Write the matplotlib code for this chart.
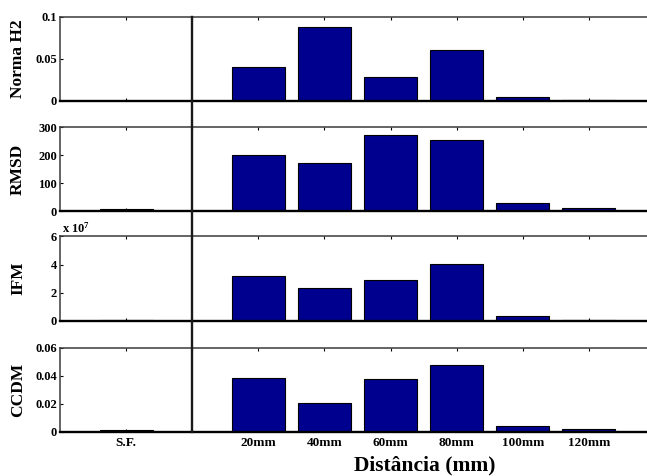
import matplotlib
matplotlib.use("Agg")
import matplotlib.pyplot as plt
from matplotlib.lines import Line2D
from matplotlib.transforms import blended_transform_factory

plt.rcParams['font.family'] = ['Liberation Serif', 'DejaVu Serif']
plt.rcParams['font.weight'] = 'bold'
plt.rcParams['mathtext.fontset'] = 'custom'
plt.rcParams['mathtext.rm'] = 'Liberation Serif:bold'
plt.rcParams['mathtext.default'] = 'rm'

# Categories (a blank slot separates the reference case from the distances)
categories = ['S.F.', '20mm', '40mm', '60mm', '80mm', '100mm', '120mm']
tick_labels = ['S.F.', '', '20mm', '40mm', '60mm', '80mm', '100mm', '120mm']

norma_h2 = [0.0, 0.0395, 0.088, 0.028, 0.0605, 0.0045, 0.0005]
rmsd = [7, 201, 172, 272, 254, 27, 11]
ifm = [0.01e7, 3.17e7, 2.34e7, 2.88e7, 4.04e7, 0.33e7, 0.02e7]
ccdm = [0.001, 0.0383, 0.0207, 0.0376, 0.0479, 0.0041, 0.0019]

panels = [
    ('Norma H2', norma_h2, 1.0, (0, 0.1), [0, 0.05, 0.1], ['0', '0.05', '0.1']),
    ('RMSD', rmsd, 1.0, (0, 300), [0, 100, 200, 300], ['0', '100', '200', '300']),
    ('IFM', ifm, 1e7, (0, 6), [0, 2, 4, 6], ['0', '2', '4', '6']),
    ('CCDM', ccdm, 1.0, (0, 0.06), [0, 0.02, 0.04, 0.06], ['0', '0.02', '0.04', '0.06']),
]

W, H = 647, 476
fig = plt.figure(figsize=(W / 100, H / 100), dpi=100)

bar_pos = [1] + list(range(3, 3 + len(categories) - 1))
tick_pos = list(range(1, len(tick_labels) + 1))

unit = 66.1
left_px = 60.0
width_px = 9 * unit
tops = [16.5, 127.0, 236.5, 347.7]
height_px = 84.0

axes = []
for (label, vals, scale, ylim, yt, ytl), top in zip(panels, tops):
    ax = fig.add_axes([left_px / W, 1 - (top + height_px) / H, width_px / W, height_px / H])
    ax.bar(bar_pos, [v / scale for v in vals], width=0.8, color='#00008F',
           edgecolor='black', linewidth=0.8, zorder=2)
    ax.set_xlim(0, 9)
    ax.set_ylim(*ylim)
    ax.set_yticks(yt)
    ax.set_yticklabels(ytl)
    ax.set_xticks(tick_pos)
    ax.tick_params(direction='in', length=2.5, width=0.8, top=True, right=True,
                   labelsize=9, pad=2, colors='black')
    ax.set_ylabel(label, fontsize=12.5, fontweight='bold')
    ax.yaxis.set_label_coords(-0.057, 0.5)
    for s in ('top', 'left', 'right'):
        ax.spines[s].set_color('#3a3a3a')
        ax.spines[s].set_linewidth(1.1)
    ax.spines['bottom'].set_color('black')
    ax.spines['bottom'].set_linewidth(1.7)
    axes.append(ax)
    if scale != 1.0:
        ax.text(0.003, 1.015, r'x 10$^{7}$', transform=ax.transAxes,
                fontsize=9, fontweight='bold', ha='left', va='bottom')

for ax in axes[:-1]:
    ax.set_xticklabels([])
axes[-1].set_xticklabels(tick_labels)
axes[-1].tick_params(axis='x', labelsize=9.5, pad=4)
axes[-1].set_xlabel('Distância (mm)', fontsize=15.5, fontweight='bold')
axes[-1].xaxis.set_label_coords((425 - left_px) / width_px, -0.28)

# Separator between the reference case and the distance cases, spanning all panels
trans = blended_transform_factory(axes[0].transData, fig.transFigure)
fig.add_artist(Line2D([2, 2], [1 - tops[0] / H, 1 - (tops[-1] + height_px) / H],
                      transform=trans, color='#1a1a1a', linewidth=1.7, zorder=5))

fig.savefig('out.png', dpi=100)
